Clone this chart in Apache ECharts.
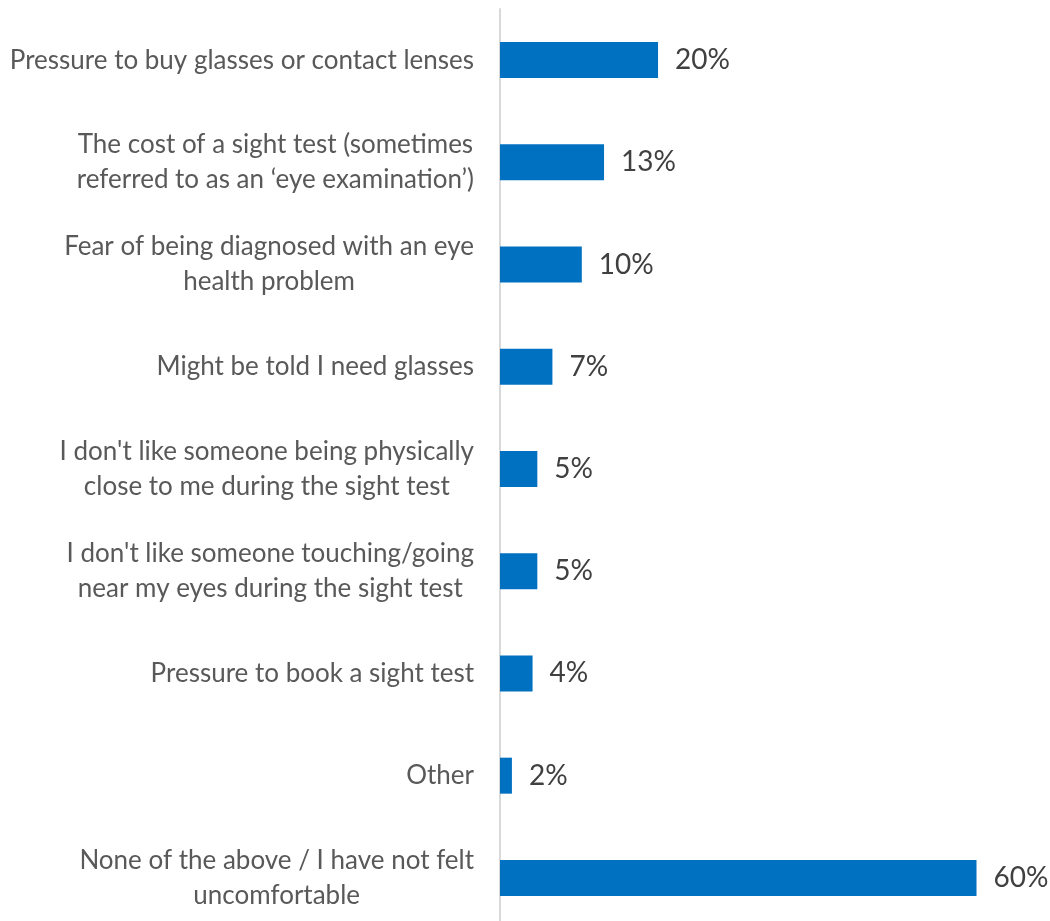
<!DOCTYPE html>
<html>
<head>
<meta charset="utf-8">
<script src="https://cdn.jsdelivr.net/npm/echarts@6/dist/echarts.min.js"></script>
<style>
html,body{margin:0;padding:0;background:#fff;}
#chart{width:1050px;height:921px;}
</style>
</head>
<body>
<div id="chart"></div>
<script>
var categories = [
  "Pressure to buy glasses or contact lenses",
  "The cost of a sight test (sometimes\nreferred to as an \u2018eye examination\u2019)",
  "Fear of being diagnosed with an eye\nhealth problem",
  "Might be told I need glasses",
  "I don't like someone being physically\nclose to me during the sight test",
  "I don't like someone touching/going\nnear my eyes during the sight test",
  "Pressure to book a sight test",
  "Other",
  "None of the above / I have not felt\nuncomfortable"
];
var values = [19.9, 13.1, 10.3, 6.6, 4.7, 4.7, 4.1, 1.5, 60];

var chart = echarts.init(document.getElementById('chart'), null, {renderer: 'canvas'});
chart.setOption({
  animation: false,
  backgroundColor: '#ffffff',
  grid: {left: 500, top: 9, width: 476.5, height: 920, containLabel: false, outerBoundsMode: 'none'},
  xAxis: {
    type: 'value', min: 0, max: 60, show: false,
    splitLine: {show: false}
  },
  yAxis: {
    type: 'category', data: categories, inverse: true,
    axisLine: {show: true, lineStyle: {color: '#d9d9d9', width: 2}},
    axisTick: {show: false},
    axisLabel: {
      margin: 26, color: '#595959', fontFamily: 'Lato', fontSize: 26,
      lineHeight: 35, align: 'right',
      formatter: function (v) {
        return v.split('\n').map(function (s) { return '{c|' + s + '}'; }).join('\n');
      },
      rich: {
        c: {align: 'center', color: '#595959', fontFamily: 'Lato', fontSize: 26, lineHeight: 35}
      }
    }
  },
  series: [{
    type: 'bar', data: values, barWidth: 36,
    itemStyle: {color: '#0070C0'},
    label: {
      show: true, position: 'right', distance: 17,
      color: '#404040', fontFamily: 'Lato', fontSize: 28,
      formatter: function (p) { return Math.round(p.value) + '%'; }
    }
  }]
});
</script>
</body>
</html>
